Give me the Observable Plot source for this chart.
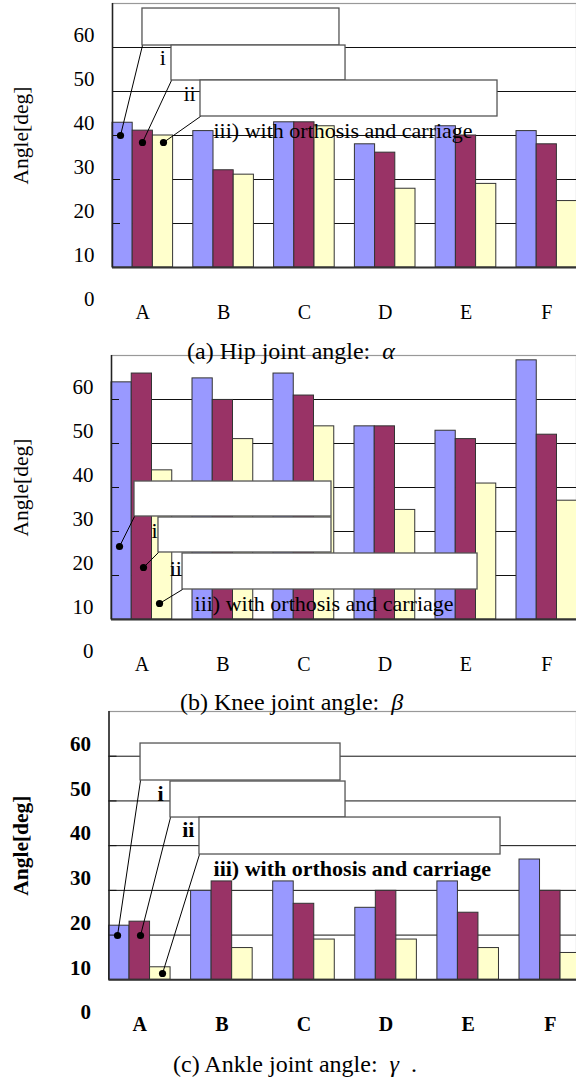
<!DOCTYPE html>
<html>
<head>
<meta charset="utf-8">
<script src="https://cdn.jsdelivr.net/npm/d3@7"></script>
<script src="https://cdn.jsdelivr.net/npm/@observablehq/plot@0.6"></script>
<style>
  html, body { margin: 0; padding: 0; background: white; }
  #root { position: relative; width: 576px; height: 1082px; overflow: hidden; background: white; }
  .panel { position: absolute; left: 0; }
  .caption { position: absolute; font-family: "Liberation Serif", serif; white-space: pre; line-height: 1; color: #000; z-index: 5; }
</style>
</head>
<body>
<div id="root"></div>
<script>
// ---------- data ----------
const categories = ["A", "B", "C", "D", "E", "F"];
const seriesKeys = ["i", "ii", "iii"];
const seriesColors = ["#9999ff", "#993366", "#ffffcc"];
const yTickLabels = [0, 10, 20, 30, 40, 50, 60];
const gridValues = [20, 30, 40, 50, 60];

// (a) Hip joint angle
const hipI   = [42.9, 41.0, 43.0, 38.0, 42.1, 41.0];
const hipII  = [41.1, 32.1, 43.0, 36.1, 40.0, 38.0];
const hipIII = [40.0, 31.1, 42.1, 27.9, 29.0, 25.1];
// (b) Knee joint angle
const kneeI   = [63.9, 64.8, 65.9, 53.9, 52.9, 68.9];
const kneeII  = [65.9, 59.9, 60.9, 53.9, 51.0, 52.0];
const kneeIII = [43.9, 51.0, 53.9, 34.9, 40.9, 37.0];
// (c) Ankle joint angle
const ankleI   = [22.1, 29.9, 32.0, 26.1, 32.0, 36.9];
const ankleII  = [23.0, 32.0, 27.0, 29.9, 25.0, 29.9];
const ankleIII = [12.8, 17.1, 19.0, 19.0, 17.1, 16.0];

const yLabel = "Angle[deg]";
const legendLabels = ["i", "ii", "iii) with orthosis and carriage"];

// ---------- layout (pixels / data-unit annotation placement) ----------
const panels = [
  {
    values: [hipI, hipII, hipIII], top: 0, height: 340, frameTop: 3, baseline: 267, left: 112, step: 80.8, bold: false,
    caption: ["(a) Hip joint angle:  ", "α", ""], captionX: 187, captionBase: 359,
    boxes: [[0.371, 2.809, 60.45, 68.86], [0.730, 2.884, 52.5, 60.45], [1.089, 4.765, 44.32, 52.5]],
    dots: [[0.099, 40.0], [0.371, 38.41], [0.631, 38.41]],
    labelPos: [[0.66, 57.6], [1.03, 49.5], [1.25, 41.0]]
  },
  {
    values: [kneeI, kneeII, kneeIII], top: 352, height: 340, frameTop: 355, baseline: 619, left: 111, step: 81, bold: false,
    caption: ["(b) Knee joint angle:  ", "β", ""], captionX: 180, captionBase: 710,
    boxes: [[0.284, 2.716, 33.41, 41.36], [0.580, 2.716, 25.23, 33.18], [0.877, 4.519, 16.82, 25.0]],
    dots: [[0.099, 26.59], [0.395, 21.82], [0.593, 13.64]],
    labelPos: [[0.57, 30.2], [0.87, 21.6], [1.025, 13.6]]
  },
  {
    values: [ankleI, ankleII, ankleIII], top: 708, height: 374, frameTop: 711, baseline: 979.3, left: 108.5, step: 82.1, bold: true,
    caption: ["(c) Ankle joint angle:  ", "γ", "  ."], captionX: 173, captionBase: 1072,
    boxes: [[0.384, 2.820, 54.57, 62.84], [0.749, 2.881, 46.29, 54.34], [1.102, 4.769, 38.02, 46.29]],
    dots: [[0.104, 19.91], [0.384, 19.91], [0.652, 11.41]],
    labelPos: [[0.664, 51.6], [1.041, 43.4], [1.273, 34.9]]
  }
];

const barW = 0.25;   // one bar = a quarter of a category step
const root = document.getElementById("root");

for (const p of panels) {
  const rows = categories.flatMap((c, i) =>
    seriesKeys.map((s, k) => ({cat: c, i, k, series: s, value: p.values[k][i]})));
  const weight = p.bold ? "bold" : "normal";
  const boxes = p.boxes.map(([x1, x2, y1, y2]) => ({x1, x2, y1, y2}));
  const links = p.boxes.map((b, j) => ({x1: b[0], y1: b[2], x2: p.dots[j][0], y2: p.dots[j][1]}));
  const dots = p.dots.map(([x, y]) => ({x, y}));
  const labels = p.labelPos.map(([x, y], j) => ({x, y, j, text: legendLabels[j]}));

  const chart = Plot.plot({
    width: 576,
    height: p.height,
    marginTop: p.frameTop - p.top,
    marginBottom: p.top + p.height - p.baseline,
    marginLeft: p.left,
    marginRight: 0,
    style: {background: "transparent", fontFamily: "Liberation Serif, serif", fontSize: "21px", color: "black", overflow: "visible"},
    x: {type: "linear", domain: [0, (576 - p.left) / p.step], axis: null},
    y: {domain: [10, 70], axis: null},
    color: {domain: seriesKeys, range: seriesColors},
    marks: [
      Plot.frame({stroke: "#999", strokeWidth: 1.2}),
      Plot.ruleY(gridValues, {stroke: "#111", strokeWidth: 1}),
      Plot.rect(rows, {
        x1: d => d.i + d.k * barW, x2: d => d.i + (d.k + 1) * barW,
        y1: 10, y2: "value", fill: "series", stroke: "#333", strokeWidth: 1
      }),
      Plot.ruleY(gridValues, {x1: 0, x2: 8 / p.step, stroke: "#111", strokeWidth: 1}),
      Plot.ruleY([10], {stroke: "#333", strokeWidth: 2}),
      Plot.ruleX([0], {stroke: "#222", strokeWidth: 1.5}),
      Plot.rect(boxes, {x1: "x1", x2: "x2", y1: "y1", y2: "y2", fill: "white", stroke: "#555", strokeWidth: 1.3}),
      Plot.link(links, {x1: "x1", y1: "y1", x2: "x2", y2: "y2", stroke: "black", strokeWidth: 1}),
      Plot.dot(dots, {x: "x", y: "y", r: 3.6, fill: "black", stroke: "none"}),
      Plot.text(labels.filter(d => d.j < 2), {x: "x", y: "y", text: "text", textAnchor: "end", fontSize: 22, fontWeight: weight, fill: "black"}),
      Plot.text(labels.filter(d => d.j === 2), {x: "x", y: "y", text: "text", textAnchor: "start", fontSize: 22, fontWeight: weight, fill: "black"}),
      Plot.text(yTickLabels, {y: d => d, text: d => String(d), frameAnchor: "left", textAnchor: "end", dx: -18, dy: -12, fontSize: 21, fontWeight: weight, fill: "black"}),
      Plot.text(categories, {x: (d, i) => i + 1.5 * barW, text: d => d, frameAnchor: "bottom", dy: 51, fontSize: 20, fontWeight: weight, fill: "black"}),
      Plot.text([yLabel], {frameAnchor: "left", textAnchor: "middle", rotate: -90, dx: -(p.left - 21), fontSize: 21.5, fontWeight: weight, fill: "black"})
    ]
  });
  const holder = document.createElement("div");
  holder.className = "panel";
  holder.style.top = p.top + "px";
  holder.appendChild(chart);
  root.appendChild(holder);
}

for (const p of panels) {
  const fs = 24;
  const cap = document.createElement("div");
  cap.className = "caption";
  cap.style.fontSize = fs + "px";
  cap.style.left = p.captionX + "px";
  cap.style.top = (p.captionBase - 0.8375 * fs) + "px";
  cap.append(p.caption[0]);
  const g = document.createElement("i");
  g.textContent = p.caption[1];
  cap.append(g);
  cap.append(p.caption[2]);
  root.appendChild(cap);
}
</script>
</body>
</html>
